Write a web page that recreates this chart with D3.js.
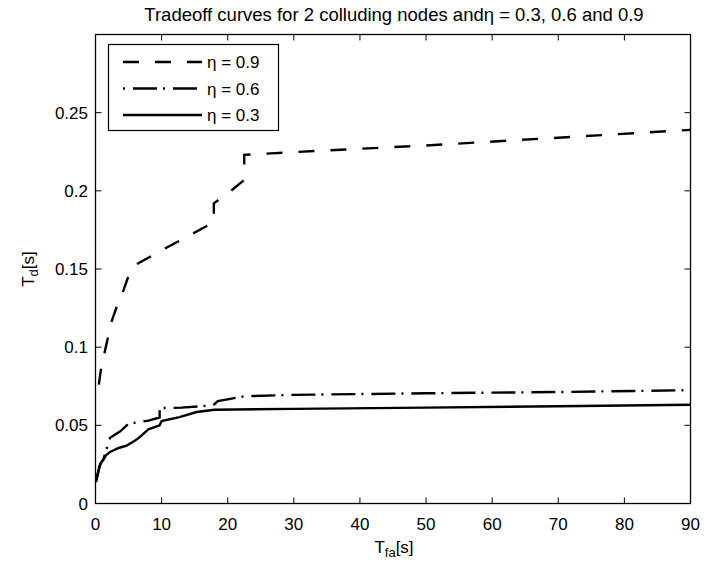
<!DOCTYPE html>
<html>
<head>
<meta charset="utf-8">
<script src="https://cdn.jsdelivr.net/npm/d3@7"></script>
<style>
  body { margin: 0; background: #fff; }
  svg { display: block; font-family: "Liberation Sans", Arial, sans-serif; }
</style>
</head>
<body>
<svg id="chart" width="706" height="572"></svg>
<script>
// data
const x09 = [0.5, 0.8, 1.4, 2.4, 3.3, 4.2, 5.2, 6.2, 10, 14, 17.9, 17.9, 20.5, 22.5, 22.5, 30, 50, 70, 90];
const y09 = [0.076, 0.085, 0.097, 0.116, 0.127, 0.136, 0.148, 0.153, 0.162, 0.171, 0.180, 0.192, 0.200, 0.207, 0.223, 0.2248, 0.229, 0.234, 0.239];

const x06 = [0.2, 0.8, 1.2, 1.6, 1.9, 2.2, 3.7, 5, 8, 9.7, 9.7, 13, 17.8, 18.5, 22.6, 30, 50, 70, 90];
const y06 = [0.017, 0.026, 0.028, 0.034, 0.038, 0.042, 0.046, 0.051, 0.053, 0.055, 0.061, 0.0613, 0.0628, 0.0655, 0.0686, 0.0695, 0.0705, 0.0713, 0.0725];

const x03 = [0.05, 0.15, 0.6, 0.9, 1.6, 2.2, 3.5, 4.7, 5.7, 6.4, 7.0, 8.0, 9.7, 10, 12.7, 15.3, 18, 30, 50, 70, 90];
const y03 = [0.0137, 0.0147, 0.024, 0.0265, 0.0308, 0.033, 0.0355, 0.037, 0.0395, 0.0415, 0.0436, 0.0475, 0.050, 0.0528, 0.0553, 0.0585, 0.060, 0.0605, 0.0613, 0.0622, 0.0632];

const xTicks = [0, 10, 20, 30, 40, 50, 60, 70, 80, 90];
const yTicks = [0, 0.05, 0.1, 0.15, 0.2, 0.25];

const series = [
  { label: 'η = 0.9', xs: x09, ys: y09, dash: '16,16', legOffset: 0 },
  { label: 'η = 0.6', xs: x06, ys: y06, dash: '24,6,2,8', legOffset: 30 },
  { label: 'η = 0.3', xs: x03, ys: y03, dash: null, legOffset: 0 }
];

const svg = d3.select('#chart');
const pLeft = 95.5, pRight = 690.5, pTop = 34.5, pBottom = 503.5;
const fs = 17;

const x = d3.scaleLinear().domain([0, 90]).range([pLeft, pRight]);
const y = d3.scaleLinear().domain([0, 0.3]).range([pBottom, pTop]);

const tickLen = 6;
const axisG = svg.append('g').attr('stroke', '#000').attr('stroke-width', 1);

// inward ticks on all four sides
xTicks.forEach(t => {
  axisG.append('line').attr('x1', x(t)).attr('x2', x(t)).attr('y1', pBottom).attr('y2', pBottom - tickLen);
  axisG.append('line').attr('x1', x(t)).attr('x2', x(t)).attr('y1', pTop).attr('y2', pTop + tickLen);
});
yTicks.forEach(t => {
  axisG.append('line').attr('x1', pLeft).attr('x2', pLeft + tickLen).attr('y1', y(t)).attr('y2', y(t));
  axisG.append('line').attr('x1', pRight).attr('x2', pRight - tickLen).attr('y1', y(t)).attr('y2', y(t));
});

svg.append('rect')
  .attr('x', pLeft).attr('y', pTop)
  .attr('width', pRight - pLeft).attr('height', pBottom - pTop)
  .attr('fill', 'none').attr('stroke', '#000').attr('stroke-width', 1.3);

svg.append('g').selectAll('text').data(xTicks).join('text')
  .attr('x', d => x(d)).attr('y', 530)
  .attr('text-anchor', 'middle').attr('font-size', fs)
  .text(d => d);

svg.append('g').selectAll('text').data(yTicks).join('text')
  .attr('x', 88).attr('y', d => y(d) + 6)
  .attr('text-anchor', 'end').attr('font-size', fs)
  .text(d => d);

// curves
const line = d3.line().x(d => x(d[0])).y(d => y(d[1]));
series.forEach(s => {
  const pts = s.xs.map((v, i) => [v, s.ys[i]]);
  svg.append('path').datum(pts)
    .attr('d', line)
    .attr('fill', 'none').attr('stroke', '#000').attr('stroke-width', 2.4)
    .attr('stroke-dasharray', s.dash);
});

// title and axis labels
svg.append('text').attr('x', 394).attr('y', 21)
  .attr('text-anchor', 'middle').attr('font-size', 18.5)
  .text('Tradeoff curves for 2 colluding nodes andη = 0.3, 0.6 and 0.9');

const xl = svg.append('text').attr('x', 394).attr('y', 553).attr('text-anchor', 'middle').attr('font-size', fs);
xl.append('tspan').text('T');
xl.append('tspan').attr('font-size', 13).attr('dy', 4).text('fa');
xl.append('tspan').attr('dy', -4).text('[s]');

const yl = svg.append('text').attr('transform', `translate(34,${(pTop + pBottom) / 2}) rotate(-90)`)
  .attr('text-anchor', 'middle').attr('font-size', fs);
yl.append('tspan').text('T');
yl.append('tspan').attr('font-size', 13).attr('dy', 4).text('d');
yl.append('tspan').attr('dy', -4).text('[s]');

// legend
const lg = svg.append('g');
lg.append('rect').attr('x', 108.5).attr('y', 44.5).attr('width', 170).attr('height', 86)
  .attr('fill', '#fff').attr('stroke', '#000').attr('stroke-width', 1.2);
series.forEach((s, i) => {
  const ly = 62 + i * 26.5;
  lg.append('line').attr('x1', 123).attr('x2', 202).attr('y1', ly).attr('y2', ly)
    .attr('stroke', '#000').attr('stroke-width', 2.4)
    .attr('stroke-dasharray', s.dash).attr('stroke-dashoffset', s.legOffset);
  lg.append('text').attr('x', 207).attr('y', ly + 6).attr('font-size', fs).text(s.label);
});
</script>
</body>
</html>
